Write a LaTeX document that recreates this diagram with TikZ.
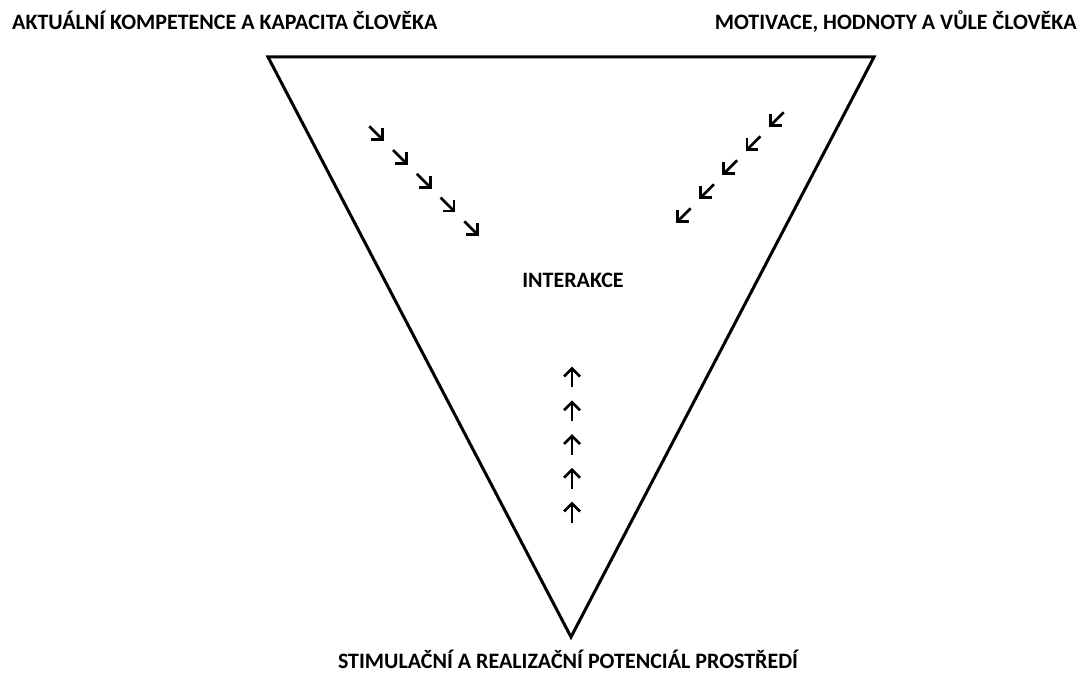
\documentclass[tikz,border=0pt]{standalone}
\usepackage{fontspec}
\setmainfont{Carlito}
\begin{document}
\begin{tikzpicture}[x=1pt,y=1pt,
  lbl/.style={inner sep=0pt,font=\fontsize{22}{24}\selectfont\bfseries},
  tri/.style={line width=3pt,line join=miter},
  pics/flowarrow/.style={code={
    \draw[line width=2.7pt,line cap=butt] (-9.5,0) -- (8.5,0);
    \draw[line width=2.7pt,line join=miter,line cap=butt] (1.5,8) -- (9.5,0) -- (1.5,-8);
  }}]
\useasboundingbox (0,0) rectangle (1080,673);
% triangle
\coordinate (tl) at (268,616);
\coordinate (tr) at (874,616);
\coordinate (bt) at (571,36);
\draw[tri] (tl) -- (tr) -- (bt) -- cycle;
% labels
\node[lbl,anchor=base west] (komp) at (12,643) {AKTUÁLNÍ KOMPETENCE A KAPACITA ČLOVĚKA};
\node[lbl,anchor=base east] (motiv) at (1077,643) {MOTIVACE, HODNOTY A VŮLE ČLOVĚKA};
\node[lbl,anchor=base] (stim) at (568,5) {STIMULAČNÍ A REALIZAČNÍ POTENCIÁL PROSTŘEDÍ};
\node[lbl,anchor=base] (inter) at (573,385) {INTERAKCE};
% arrows from top-left
\foreach \i in {0,...,4}{
  \pic[rotate=-45] at ({376+23.75*\i},{540-23.75*\i}) {flowarrow};
}
% arrows from top-right
\foreach \i in {0,...,4}{
  \pic[rotate=-135] at ({777-23.25*\i},{554-24*\i}) {flowarrow};
}
% arrows from bottom
\foreach \i in {0,...,4}{
  \pic[rotate=90] at (572,{160+33.75*\i}) {flowarrow};
}
\end{tikzpicture}
\end{document}
